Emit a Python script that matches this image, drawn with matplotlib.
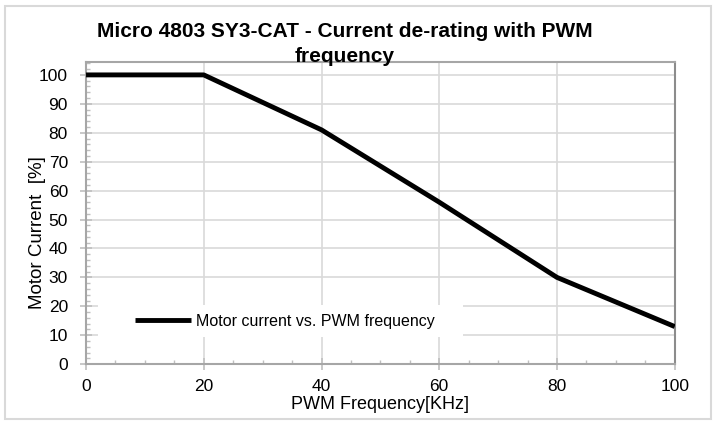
import numpy as np
import matplotlib.pyplot as plt
from matplotlib.patches import Rectangle
from matplotlib.ticker import MultipleLocator

plt.rcParams['font.family'] = ['Liberation Sans', 'DejaVu Sans']

# PWM frequency [kHz] and allowed motor current [%]
freq = [0, 20, 40, 60, 80, 100]
current = [100, 100, 81, 56, 30, 13]

series_label = 'Motor current vs. PWM frequency'
title_1 = 'Micro 4803 SY3-CAT - Current de-rating with PWM'
title_2 = 'frequency'

fig = plt.figure(figsize=(7.17, 4.21), dpi=100)
ax = fig.add_axes([0.120, 0.135, 0.821, 0.718])

ax.plot(freq, current, color='black', lw=3.5, solid_capstyle='butt',
        label=series_label, zorder=3)

ax.set_xlim(0, 100)
ax.set_ylim(0, 104.5)
ax.xaxis.set_major_locator(MultipleLocator(20))
ax.xaxis.set_minor_locator(MultipleLocator(5))
ax.yaxis.set_major_locator(MultipleLocator(10))
ax.yaxis.set_minor_locator(MultipleLocator(2))

ax.grid(True, which='major', color='#d9d9d9', lw=1.2, zorder=0)
for s in ax.spines.values():
    s.set_color('#a6a6a6')
    s.set_linewidth(1.5)
ax.spines['right'].set_color('#8c8c8c')

ax.tick_params(which='major', direction='inout', length=8, width=1.2,
               color='#bfbfbf', labelsize=12.5)
ax.tick_params(axis='y', which='major', pad=9)
ax.tick_params(axis='x', which='major', pad=7)
ax.tick_params(which='minor', direction='in', length=3, width=1,
               color='#bfbfbf')

ax.set_xlabel('PWM Frequency[KHz]', fontsize=13, labelpad=1)
ax.set_ylabel('Motor Current  [%]', fontsize=13.5)
ax.yaxis.set_label_coords(-0.068, 0.434)

# white legend background (Excel style, wider than the entry)
ax.add_patch(Rectangle((0.020, 0.089), 0.620, 0.106, transform=ax.transAxes,
                       facecolor='white', edgecolor='none', zorder=2))
leg = ax.legend(loc='center left', bbox_to_anchor=(0.083, 0.142), frameon=False,
                fontsize=11.5, handlelength=3.5, handletextpad=0.3,
                borderpad=0, borderaxespad=0)

fig.text(0.481, 1 - 37 / 421, title_1, ha='center', va='baseline', fontsize=15,
         fontweight='bold', zorder=5)
fig.text(0.481, 1 - 62 / 421, title_2, ha='center', va='baseline', fontsize=15,
         fontweight='bold', zorder=5)

fig.patches.append(Rectangle((0.007, 0.005), 0.985, 0.981, transform=fig.transFigure,
                             fill=False, edgecolor='#d9d9d9', lw=1.5))

fig.savefig('out.png', dpi=100)
